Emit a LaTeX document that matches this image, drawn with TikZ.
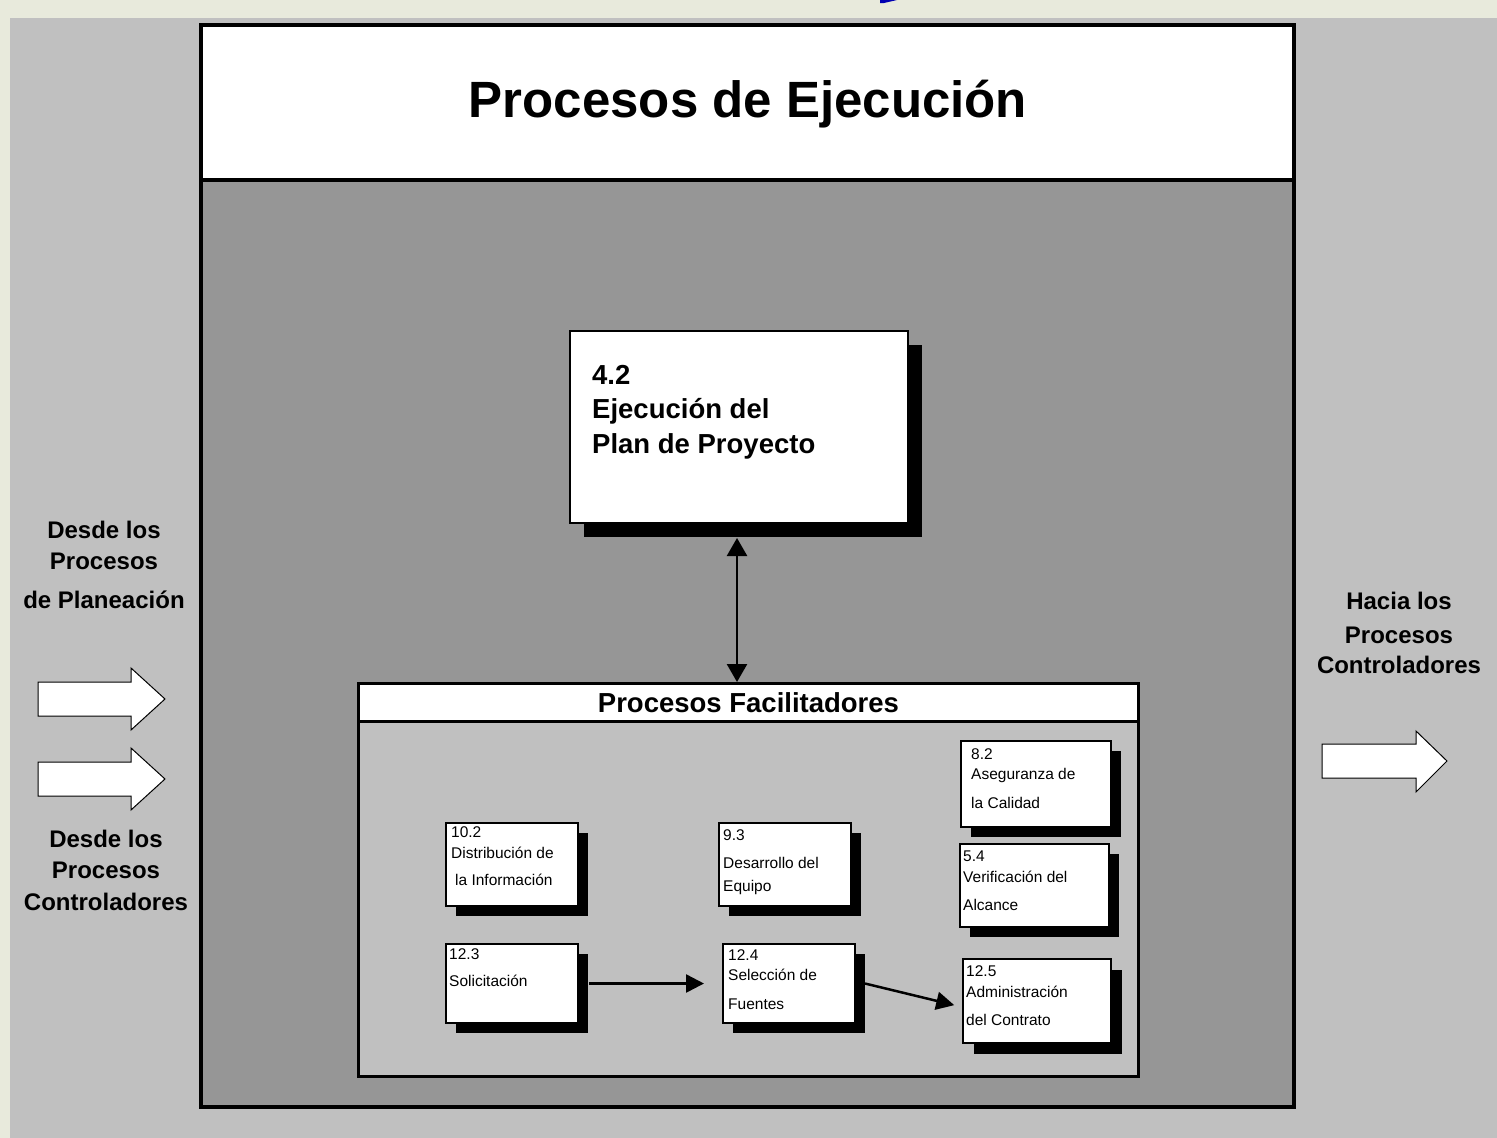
\documentclass[tikz,border=0pt]{standalone}
\usepackage{fontspec}
\setmainfont{Liberation Sans}
\usetikzlibrary{positioning,shadows,arrows.meta}

\definecolor{fondo}{RGB}{192,192,192}
\definecolor{oscuro}{RGB}{150,150,150}
\definecolor{palido}{RGB}{232,234,220}

\begin{document}
\begin{tikzpicture}[x=1pt,y=-1pt,
    proc/.style ={rectangle, draw, line width=2pt, fill=white,
      anchor=north west, inner sep=0pt,
      drop shadow={shadow xshift=#1, shadow yshift=-#1, fill=black, opacity=1}},
    proc/.default=10pt,
    ptxt/.style={anchor=north west, align=left, inner sep=0pt,
      font=\fontsize{15.5}{21}\selectfont},
    big/.style ={anchor=north, align=center, inner sep=0pt,
      font=\bfseries\fontsize{24}{31}\selectfont},
    flecha/.style={draw, line width=1pt, fill=white},
    con/.style ={line width=2.5pt, -{Triangle[length=18pt,width=18pt]}}
    ]
    \useasboundingbox (0,0) rectangle (1497,1138);

    % fondo
    \fill[fondo] (0,0) rectangle (1497,1138);
    \fill[palido] (0,0) rectangle (1497,18);
    \fill[palido] (0,0) rectangle (10,1138);
    \fill[blue!70!black] (880,0) -- (897,0) -- (884,3) -- (880,3) -- cycle;

    % marco principal
    \fill[oscuro] (201,180) rectangle (1294,1107);
    \fill[white] (201,25) rectangle (1294,180);
    \draw[line width=4pt] (201,180) -- (1294,180);
    \draw[line width=4pt] (201,25) rectangle (1294,1107);
    \node[font=\bfseries\fontsize{51}{60}\selectfont, anchor=base] (ttl) at (748,117) {Procesos de Ejecución};

    % 4.2
    \node[proc=14pt, minimum width=338, minimum height=192] (e42) at (569,330) {};
    \node[anchor=north west, align=left, inner sep=0pt,
      font=\bfseries\fontsize{27.5}{34.5}\selectfont,
      below right=35pt and 23pt of e42.north west] (e42t) {4.2\\Ejecución del\\Plan de Proyecto};

    % procesos facilitadores
    \node[rectangle, draw, line width=3pt, fill=fondo, anchor=north west,
      minimum width=780, minimum height=393, inner sep=0pt] (fac) at (357,682) {};
    \node[rectangle, draw, line width=3pt, fill=white, anchor=north west,
      minimum width=780, minimum height=38, inner sep=0pt,
      font=\bfseries\fontsize{27.5}{33}\selectfont] (fach) at (357,682) {Procesos Facilitadores};

    \draw[line width=2.5pt, {Triangle[length=18pt,width=20pt]}-{Triangle[length=18pt,width=20pt]}]
      ([xshift=-2pt,yshift=-14pt]e42.south) -- ([xshift=-2pt]e42.south |- fach.north);

    \node[proc, minimum width=132, minimum height=83] (d102) at (445,822) {};
    \node[ptxt, below right=4.5pt and 6pt of d102.north west] (d102t) {10.2\\Distribución de\\[6pt]\hspace{4pt}la Información};

    \node[proc, minimum width=132, minimum height=83] (d93) at (718,822) {};
    \node[ptxt, below right=7.5pt and 5pt of d93.north west] (d93t) {9.3\\[7pt]Desarrollo del\\[2pt]Equipo};

    \node[proc, minimum width=150, minimum height=86] (c82) at (960,740) {};
    \node[ptxt, below right=8.5pt and 11pt of c82.north west] (c82t) {8.2\\[-1pt]Aseguranza de\\[8pt]la Calidad};

    \node[proc, minimum width=149, minimum height=83] (v54) at (959,843) {};
    \node[ptxt, below right=7.5pt and 4pt of v54.north west] (v54t) {5.4\\Verificación del\\[7pt]Alcance};

    \node[proc, minimum width=132, minimum height=79] (s123) at (445,943) {};
    \node[ptxt, below right=5.5pt and 4pt of s123.north west] (s123t) {12.3\\[6pt]Solicitación};

    \node[proc, minimum width=132, minimum height=79] (s124) at (722,943) {};
    \node[ptxt, below right=6.5pt and 6pt of s124.north west] (s124t) {12.4\\[-1pt]Selección de\\[8pt]Fuentes};

    \node[proc=11pt, minimum width=148, minimum height=84] (a125) at (962,958) {};
    \node[ptxt, below right=7.5pt and 4pt of a125.north west] (a125t) {12.5\\Administración\\[7pt]del Contrato};

    \draw[con, shorten >=18pt] ([xshift=10pt]s123.east) -- (s124.west);
    \draw[con, shorten >=8pt] ([xshift=9pt]s124.east) -- ([yshift=-6pt]a125.west);

    % entradas y salidas
    \node[big] (plan) at (104,521.4) {Desde los\\Procesos\\[8pt]de Planeación};
    \node[big, font=\bfseries\fontsize{24}{31.5}\selectfont] (ctrl) at (106,829.4) {Desde los\\Procesos\\Controladores};
    \node[big] (haci) at (1399,591.4) {Hacia los\\[3pt]Procesos\\Controladores};

    \foreach \yc in {699,779}
      \draw[flecha] (38,\yc-17) -- (131,\yc-17) -- (131,\yc-31) -- (165,\yc)
        -- (131,\yc+31) -- (131,\yc+17) -- (38,\yc+17) -- cycle;
    \draw[flecha] (1322,744) -- (1416,744) -- (1416,731) -- (1447,761)
      -- (1416,792) -- (1416,778) -- (1322,778) -- cycle;
\end{tikzpicture}
\end{document}
